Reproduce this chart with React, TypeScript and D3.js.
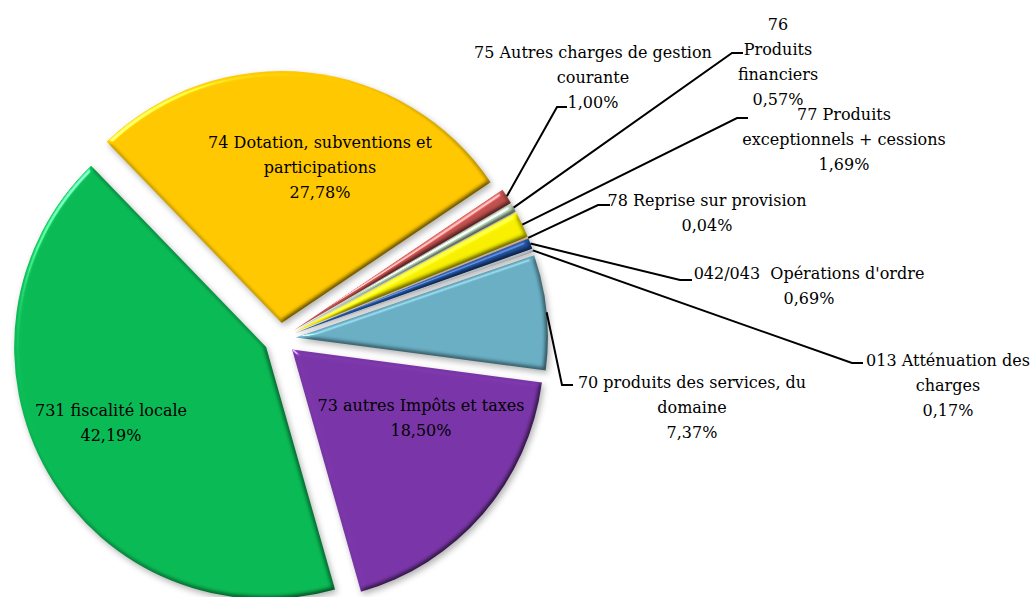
import * as React from "react";
import * as d3 from "d3";

// slice order, clockwise from the "70" slice
const categories = [
  "70 produits des services, du domaine",
  "73 autres Impôts et taxes",
  "731 fiscalité locale",
  "74 Dotation, subventions et participations",
  "75 Autres charges de gestion courante",
  "76 Produits financiers",
  "77 Produits exceptionnels + cessions",
  "78 Reprise sur provision",
  "042/043  Opérations d'ordre",
  "013 Atténuation des charges",
];
const shares = [7.37, 18.5, 42.19, 27.78, 1.0, 0.57, 1.69, 0.04, 0.69, 0.17];

const colors = [
  "#6aafc4", "#7a36a8", "#0aba55", "#ffc800", "#c0504d",
  "#b5cfb5", "#f8f000", "#f79646", "#1f4f9c", "#b0b8c0",
];

// label placement: centre of first line, word index where lines break, leader elbow
const labelLayout = [
  { x: 692, y: 382, breaks: [5], elbow: [562, 385], end: 573 },
  { x: 421, y: 405, breaks: [] },
  { x: 111, y: 410, breaks: [] },
  { x: 320, y: 142, breaks: [4] },
  { x: 593, y: 52, breaks: [5], elbow: [557, 107], end: 567 },
  { x: 778, y: 24, breaks: [1, 2], elbow: [732, 53], end: 743 },
  { x: 844, y: 114, breaks: [2], elbow: [737, 118], end: 748 },
  { x: 707, y: 200, breaks: [], elbow: [598, 205], end: 610 },
  { x: 809, y: 273, breaks: [], elbow: [680, 280], end: 692 },
  { x: 948, y: 360, breaks: [3], elbow: [852, 363], end: 863 },
];

const width = 1032;
const height = 597;
const cx = 280;
const cy = 339;
const radius = 252;
const explode = 16;
const lineH = 25;
const start = (71 * Math.PI) / 180;

const fmt = (v: number) => d3.format(".2f")(v).replace(".", ",") + "%";

const splitLines = (name: string, breaks: number[]) => {
  const words = name.split(" ");
  const cuts = [0, ...breaks, words.length];
  const out: string[] = [];
  for (let i = 0; i < cuts.length - 1; i++) {
    out.push(words.slice(cuts[i], cuts[i + 1]).join(" "));
  }
  return out;
};

const App = () => {
  const pie = d3
    .pie<number>()
    .sort(null)
    .value((d) => d)
    .startAngle(start)
    .endAngle(start + 2 * Math.PI);
  const arcs = pie(shares);
  const arc = d3.arc<d3.PieArcDatum<number>>().innerRadius(0).outerRadius(radius);

  return (
    <svg
      width={width}
      height={height}
      style={{ position: "absolute", left: 0, top: 0, background: "#fff" }}
      fontFamily="'Palatino Linotype', 'Book Antiqua', Palatino, 'DejaVu Serif', serif"
      fontSize={16}
    >
      <defs>
        {/* soft bevel + drop shadow, roughly like the office chart */}
        <filter id="bevel" x="-10%" y="-10%" width="125%" height="125%" colorInterpolationFilters="sRGB">
          <feGaussianBlur in="SourceAlpha" stdDeviation="2.5" result="blur" />
          <feDiffuseLighting in="blur" surfaceScale="2.5" diffuseConstant="1.16" lightingColor="#fff" result="diff">
            <feDistantLight azimuth={225} elevation={60} />
          </feDiffuseLighting>
          <feSpecularLighting in="blur" surfaceScale="2.5" specularConstant="0.6" specularExponent="60" lightingColor="#fff" result="spec">
            <feDistantLight azimuth={225} elevation={40} />
          </feSpecularLighting>
          <feComposite in="SourceGraphic" in2="diff" operator="arithmetic" k1="1" k2="0" k3="0" k4="0" result="shaded" />
          <feComposite in="spec" in2="SourceAlpha" operator="in" result="specIn" />
          <feComposite in="shaded" in2="specIn" operator="arithmetic" k1="0" k2="1" k3="1" k4="0" result="lit" />
          <feGaussianBlur in="SourceAlpha" stdDeviation="3" result="sb" />
          <feOffset in="sb" dx="2" dy="3" result="so" />
          <feFlood floodColor="#000" floodOpacity="0.3" />
          <feComposite in2="so" operator="in" result="shadow" />
          <feMerge>
            <feMergeNode in="shadow" />
            <feMergeNode in="lit" />
          </feMerge>
        </filter>
      </defs>

      <g transform={`translate(${cx},${cy})`}>
        {arcs.map((a, i) => {
          const mid = (a.startAngle + a.endAngle) / 2;
          const dx = Math.sin(mid) * explode;
          const dy = -Math.cos(mid) * explode;
          return (
            <path
              key={i}
              d={arc(a) || ""}
              transform={`translate(${dx},${dy})`}
              fill={colors[i]}
              filter="url(#bevel)"
            />
          );
        })}
      </g>

      {arcs.map((a, i) => {
        const lay = labelLayout[i];
        if (!lay.elbow) return null;
        const mid = (a.startAngle + a.endAngle) / 2;
        const r = radius + explode;
        const sx = cx + Math.sin(mid) * r;
        const sy = cy - Math.cos(mid) * r;
        return (
          <polyline
            key={"l" + i}
            points={`${sx},${sy} ${lay.elbow[0]},${lay.elbow[1]} ${lay.end},${lay.elbow[1]}`}
            fill="none"
            stroke="#000"
            strokeWidth={2}
          />
        );
      })}

      {categories.map((name, i) => {
        const lay = labelLayout[i];
        const lines = [...splitLines(name, lay.breaks), fmt(shares[i])];
        return (
          <text key={"t" + i} textAnchor="middle" fill="#000" style={{ whiteSpace: "pre" }}>
            {lines.map((ln, j) => (
              <tspan key={j} x={lay.x} y={lay.y + j * lineH} dominantBaseline="central">
                {ln}
              </tspan>
            ))}
          </text>
        );
      })}
    </svg>
  );
};

export default App;
